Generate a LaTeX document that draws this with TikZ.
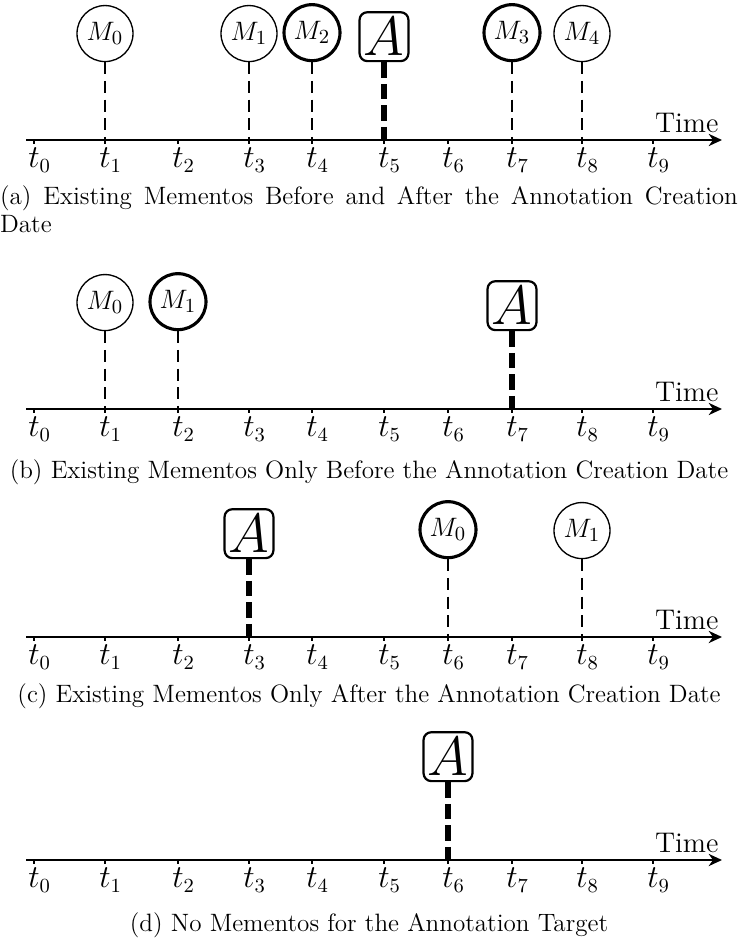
\documentclass[tikz,border=0pt]{standalone}
\usetikzlibrary{arrows.meta,positioning}

\begin{document}
\begin{tikzpicture}[x=0.45pt,y=-0.45pt,
  axis/.style={line width=0.9pt,-{Stealth[length=6pt,width=5.5pt]}},
  tickmark/.style={line width=0.8pt},
  memento/.style={circle,draw,line width=0.6pt,minimum size=25.2pt,inner sep=0pt,font=\fontsize{12.5}{14}\selectfont},
  boldmemento/.style={memento,line width=1.4pt},
  annot/.style={draw,rounded corners=3.5pt,line width=1pt,minimum size=22pt,inner sep=1pt,font=\fontsize{23}{24}\selectfont},
  mdrop/.style={line width=1.1pt,dash pattern=on 5.4pt off 3pt},
  adrop/.style={line width=2.4pt,dash pattern=on 7pt off 2.7pt},
  ticklabel/.style={anchor=north,inner sep=3.5pt,font=\fontsize{13.5}{15}\selectfont},
  caption/.style={anchor=north,inner sep=0pt,font=\fontsize{11.3}{12.6}\selectfont}]

\useasboundingbox (0,0) rectangle (738,938);

% the four time lines
\foreach \p/\y in {a/140,b/409,c/637,d/860}{
  \coordinate (\p s) at (26,\y);
  \coordinate (\p e) at (722,\y);
  \draw[axis] (\p s) -- (\p e);
  \node[anchor=base east,inner sep=0pt,font=\fontsize{12.8}{14}\selectfont] (\p time) at (719,\y-8) {Time};
  \foreach \i/\x in {0/34,1/105,2/178,3/249,4/312,5/384,6/448,7/512,8/582,9/653}{
    \coordinate (\p\i) at (\x,\y);
    \draw[tickmark] (\p\i) -- ++(0,4);
    \node[ticklabel] (\p l\i) at (\p\i) {$t\rlap{$_{\i}$}$};
  }
}

% (a)
\node[memento] (aM0) [above=35pt of a1] {$M_0$};
\node[memento] (aM1) [above=35pt of a3] {$M_1$};
\node[boldmemento] (aM2) [above=35pt of a4] {$M_2$};
\node[annot] (aA) [above=35pt of a5] {$A$};
\node[boldmemento] (aM3) [above=35pt of a7] {$M_3$};
\node[memento] (aM4) [above=35pt of a8] {$M_4$};
\draw[mdrop] (aM0) -- (a1);
\draw[mdrop] (aM1) -- (a3);
\draw[mdrop] (aM2) -- (a4);
\draw[adrop] (aA) -- (a5);
\draw[mdrop] (aM3) -- (a7);
\draw[mdrop] (aM4) -- (a8);
\node[caption,text width=332pt,align=justify] (acap) at (369,185)
  {(a) Existing Mementos Before and After the Annotation Creation Date};

% (b)
\node[memento] (bM0) [above=35pt of b1] {$M_0$};
\node[boldmemento] (bM1) [above=35pt of b2] {$M_1$};
\node[annot] (bA) [above=35pt of b7] {$A$};
\draw[mdrop] (bM0) -- (b1);
\draw[mdrop] (bM1) -- (b2);
\draw[adrop] (bA) -- (b7);
\node[caption] (bcap) at (369,459)
  {(b) Existing Mementos Only Before the Annotation Creation Date};

% (c)
\node[annot] (cA) [above=35pt of c3] {$A$};
\node[boldmemento] (cM0) [above=35pt of c6] {$M_0$};
\node[memento] (cM1) [above=35pt of c8] {$M_1$};
\draw[adrop] (cA) -- (c3);
\draw[mdrop] (cM0) -- (c6);
\draw[mdrop] (cM1) -- (c8);
\node[caption] (ccap) at (369,683)
  {(c) Existing Mementos Only After the Annotation Creation Date};

% (d)
\node[annot] (dA) [above=35pt of d6] {$A$};
\draw[adrop] (dA) -- (d6);
\node[caption] (dcap) at (369,912)
  {(d) No Mementos for the Annotation Target};

\end{tikzpicture}
\end{document}
